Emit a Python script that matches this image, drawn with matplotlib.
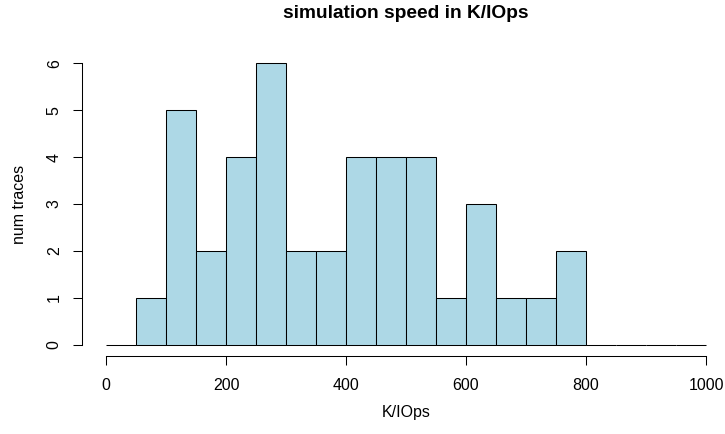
import numpy as np
import matplotlib
matplotlib.use("Agg")
import matplotlib.pyplot as plt

# histogram bins (K/IOps) and counts per bin
bin_edges = [0, 50, 100, 150, 200, 250, 300, 350, 400, 450, 500,
             550, 600, 650, 700, 750, 800, 850, 900, 950, 1000]
counts = [0, 1, 5, 2, 4, 6, 2, 2, 4, 4, 4, 1, 3, 1, 1, 2, 0, 0, 0, 0]
x_ticks = [0, 200, 400, 600, 800, 1000]
y_ticks = [0, 1, 2, 3, 4, 5, 6]

plt.rcParams['font.family'] = ['Liberation Sans', 'DejaVu Sans']

fig = plt.figure(figsize=(7.25, 4.34), dpi=100)
ax = fig.add_axes([82 / 725, 78 / 434, 648 / 725, 304 / 434])

left = np.array(bin_edges[:-1])
widths = np.diff(bin_edges)
ax.bar(left, counts, width=widths, align='edge', color='#ADD8E6',
       edgecolor='black', linewidth=0.75)

ax.set_xlim(-40, 1040)
ax.set_ylim(-0.24, 6.24)

# R style detached axes
for s in ['top', 'right']:
    ax.spines[s].set_visible(False)
ax.spines['bottom'].set_bounds(x_ticks[0], x_ticks[-1])
ax.spines['left'].set_bounds(y_ticks[0], y_ticks[-1])
ax.spines['bottom'].set_linewidth(0.75)
ax.spines['left'].set_linewidth(0.75)

ax.set_xticks(x_ticks)
ax.set_yticks(y_ticks)
ax.set_yticklabels([str(v) for v in y_ticks], rotation=90, va='center')
ax.tick_params(axis='x', direction='out', length=6.5, width=0.75,
               labelsize=11.5, pad=9)
ax.tick_params(axis='y', direction='out', length=6.5, width=0.75,
               labelsize=11.5, pad=8)

ax.set_xlabel('K/IOps', fontsize=11.5, labelpad=9)
ax.set_ylabel('num traces', fontsize=11.5, labelpad=14)
fig.suptitle('simulation speed in K/IOps', fontsize=13.8, fontweight='bold',
             y=0.968, va='center', x=406 / 725)

fig.savefig('out.png', dpi=100)
